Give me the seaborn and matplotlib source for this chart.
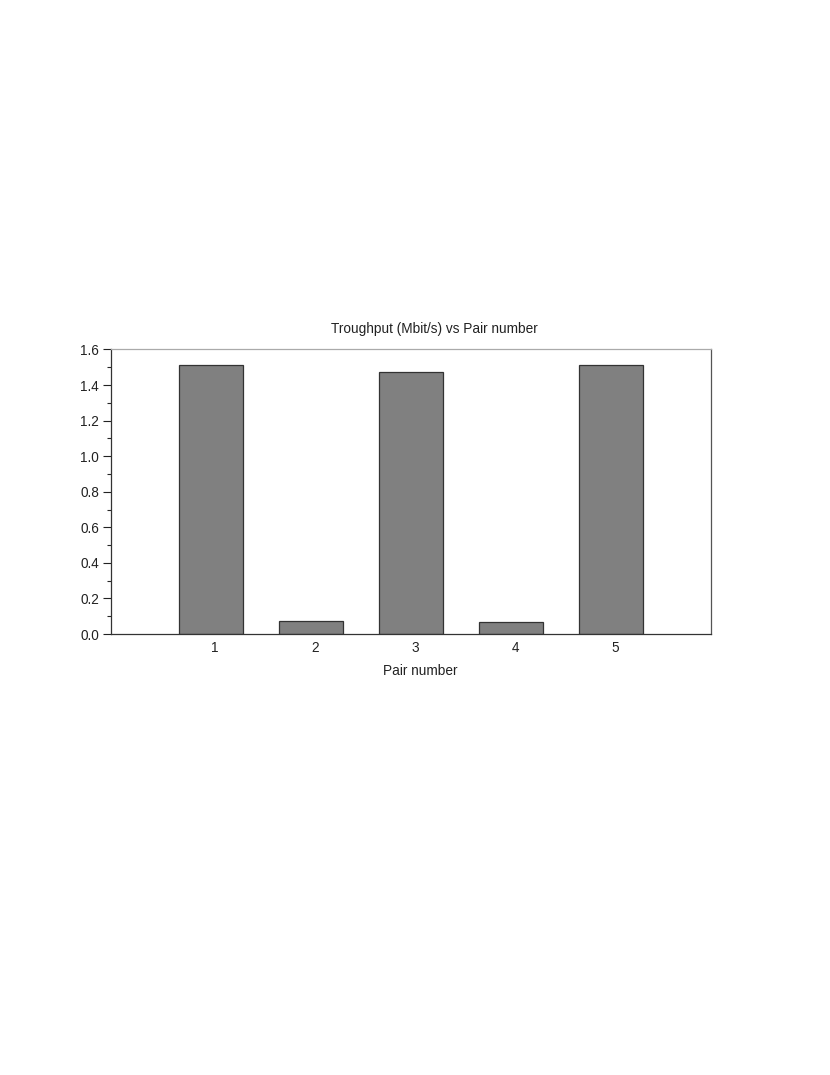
import matplotlib
matplotlib.use("Agg")
import matplotlib.pyplot as plt
import matplotlib.transforms as mtransforms
import seaborn as sns
import pandas as pd
from matplotlib.ticker import MultipleLocator

pairs = ["1", "2", "3", "4", "5"]
throughput = [1.513, 0.073, 1.474, 0.070, 1.515]

sns.set_style("ticks")
plt.rcParams['font.family'] = ['Liberation Sans', 'DejaVu Sans']

df = pd.DataFrame({"pair": pairs, "throughput": throughput})

fig = plt.figure(figsize=(8.3, 10.75), dpi=100)
ax = fig.add_axes([111/830, 1-634/1075, 600/830, (634-349.5)/1075])
sns.barplot(data=df, x="pair", y="throughput", color="#808080", saturation=1,
            width=0.64, edgecolor="#333333", linewidth=0.9, ax=ax)
ax.set_xlim(-1, 5)
ax.set_ylim(0, 1.6)
ax.yaxis.set_major_locator(MultipleLocator(0.2))
ax.yaxis.set_minor_locator(MultipleLocator(0.1))
ax.yaxis.set_major_formatter(matplotlib.ticker.FormatStrFormatter('%.1f'))
ax.tick_params(axis='y', which='major', length=6, width=0.8, labelsize=9.8,
               colors='#222222', pad=2.5)
ax.tick_params(axis='y', which='minor', length=3, width=0.8)
ax.tick_params(axis='x', length=0, labelsize=9.8, pad=5, colors='#222222')
offset = mtransforms.ScaledTranslation(4/100, 0, fig.dpi_scale_trans)
for lab in ax.get_xticklabels():
    lab.set_transform(lab.get_transform() + offset)
for s in ax.spines.values():
    s.set_visible(True)
    s.set_linewidth(0.9)
ax.spines['top'].set_color('#aaaaaa')
ax.spines['right'].set_color('#555555')
ax.spines['left'].set_color('#333333')
ax.spines['bottom'].set_color('#333333')
ax.set_xlabel("Pair number", fontsize=9.8, color='#222222')
ax.xaxis.set_label_coords((420-111)/600, -(664-634)/(634-349.5), transform=ax.transAxes)
ax.xaxis.label.set_va('top')
ax.set_ylabel("")
ax.set_title("Troughput (Mbit/s) vs Pair number", fontsize=9.8, pad=12,
             x=(434-111)/600, color='#222222')
fig.savefig("out.png", dpi=100, facecolor="white")
